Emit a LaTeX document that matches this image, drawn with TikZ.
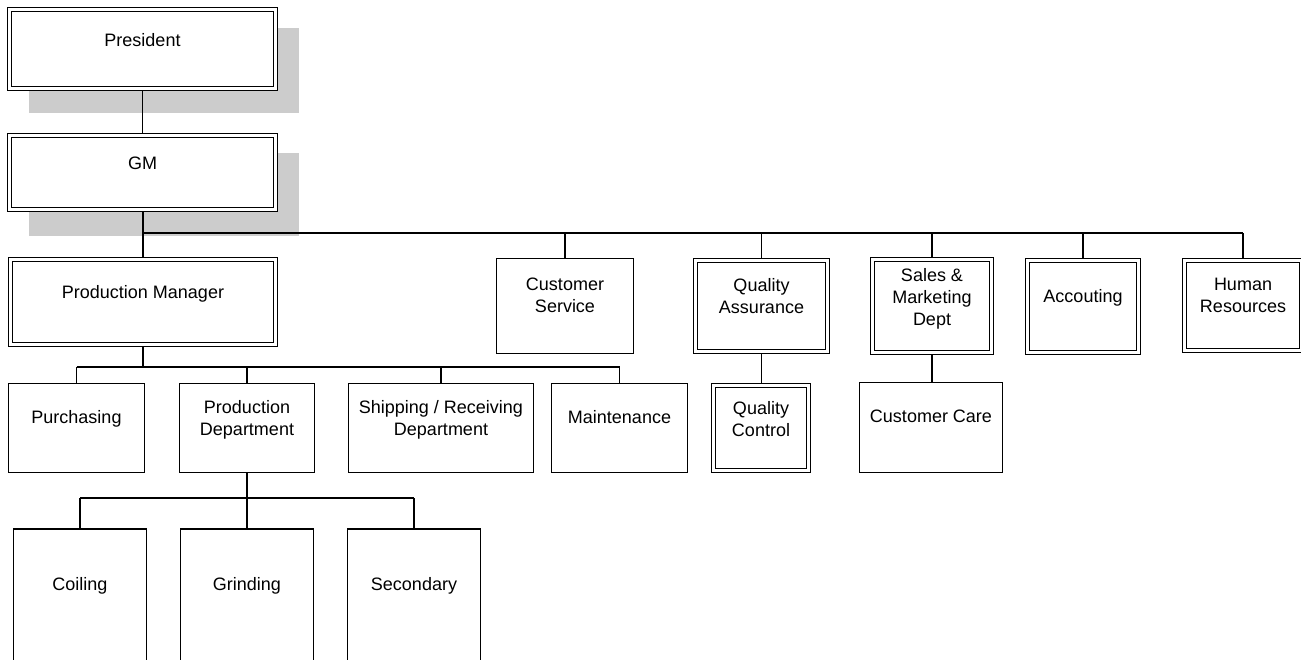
\documentclass[tikz,border=0pt]{standalone}
\usepackage{fontspec}
\setmainfont{Liberation Sans}
\usetikzlibrary{backgrounds}
\definecolor{shadowgray}{RGB}{204,204,204}
\begin{document}
\begin{tikzpicture}[x=1pt,y=-1pt,
  sbox/.style={draw=black,line width=1.2pt,fill=white,inner sep=0pt},
  dbox/.style={draw=black,double=white,double distance=3pt,line width=1.15pt,fill=white,inner sep=0pt},
  lbl/.style={font=\fontsize{18}{22}\selectfont,align=center,anchor=north,inner sep=0pt},
  shadowbox/.style={fill=shadowgray,draw=none},
  trunk/.style={line width=2pt},
  bus/.style={line width=1.8pt},
  drop/.style={line width=1.2pt}]
\useasboundingbox (0,0) rectangle (1301,659);

% boxes
\node[dbox,minimum width=265.4,minimum height=78.4] (pres) at (142.5,49) {};
\node[dbox,minimum width=265.4,minimum height=73.4] (gm) at (142.5,172.5) {};
\node[dbox,minimum width=264.4,minimum height=84.4] (pm) at (143,302) {};
\node[sbox,minimum width=137,minimum height=95] (cs) at (565,306) {};
\node[dbox,minimum width=131.4,minimum height=90.4] (qa) at (761.5,306) {};
\node[dbox,minimum width=94.4,minimum height=84.4] (qc) at (761,428) {};
\node[dbox,minimum width=118.4,minimum height=92.4] (sales) at (932,306) {};
\node[sbox,minimum width=143,minimum height=90] (cc) at (931,427.5) {};
\node[dbox,minimum width=110.4,minimum height=91.4] (acc) at (1083,306.5) {};
\node[dbox,minimum width=116.4,minimum height=89.4] (hr) at (1243,305.5) {};
\node[sbox,minimum width=136,minimum height=89] (pur) at (76.5,428) {};
\node[sbox,minimum width=135,minimum height=89] (pd) at (247,428) {};
\node[sbox,minimum width=185,minimum height=89] (ship) at (441,428) {};
\node[sbox,minimum width=136,minimum height=89] (maint) at (619.5,428) {};
\node[sbox,minimum width=133,minimum height=151] (coil) at (80,604.5) {};
\node[sbox,minimum width=133,minimum height=151] (grind) at (247,604.5) {};
\node[sbox,minimum width=133,minimum height=151] (sec) at (414,604.5) {};

% labels
\node[lbl] (presT) at (142.5,33) {President};
\node[lbl] (gmT) at (142.5,157) {GM};
\node[lbl] (pmT) at (143,285) {Production Manager};
\node[lbl] (csT) at (565,278) {Customer\\Service};
\node[lbl] (qaT) at (761.5,278) {Quality\\Assurance};
\node[lbl] (qcT) at (761,401) {Quality\\Control};
\node[lbl] (salesT) at (932,268) {Sales \&\\Marketing\\Dept};
\node[lbl] (accT) at (1083,289) {Accouting};
\node[lbl] (hrT) at (1243,278) {Human\\Resources};
\node[lbl] (purT) at (76.5,410) {Purchasing};
\node[lbl] (pdT) at (247,400) {Production\\Department};
\node[lbl] (shipT) at (441,400) {Shipping / Receiving\\Department};
\node[lbl] (maintT) at (619.5,410) {Maintenance};
\node[lbl] (ccT) at (931,410) {Customer Care};
\node[lbl] (coilT) at (80,577) {Coiling};
\node[lbl] (grindT) at (247,577) {Grinding};
\node[lbl] (secT) at (414,577) {Secondary};

\begin{scope}[on background layer]
  % shadows
  \fill[shadowbox] (29,28) rectangle (299,113);
  \fill[shadowbox] (29,153) rectangle (299,236);
  % connectors
  \draw[drop] (pres.south) -- (gm.north);
  \coordinate (b1) at (142.5,233);
  \draw[trunk] (gm.south) -- (b1);
  \draw[bus] (b1) -- (b1 -| hr.north);
  \foreach \n in {pm,cs,qa,sales,acc,hr} \draw[drop] (b1 -| \n.north) -- (\n.north);
  \draw[drop] (qa.south) -- (qa.south |- qc.north);
  \draw[drop] (sales.south) -- (sales.south |- cc.north);
  \coordinate (b2) at (143,367);
  \draw[trunk] (pm.south) -- (b2);
  \draw[bus] (b2 -| pur.north) -- (b2 -| maint.north);
  \foreach \n in {pur,pd,ship,maint} \draw[drop] (b2 -| \n.north) -- (\n.north);
  \coordinate (b3) at (247,498);
  \draw[trunk] (pd.south) -- (grind.north);
  \draw[bus] (b3 -| coil.north) -- (b3 -| sec.north);
  \foreach \n in {coil,sec} \draw[drop] (b3 -| \n.north) -- (\n.north);
\end{scope}
\end{tikzpicture}
\end{document}
